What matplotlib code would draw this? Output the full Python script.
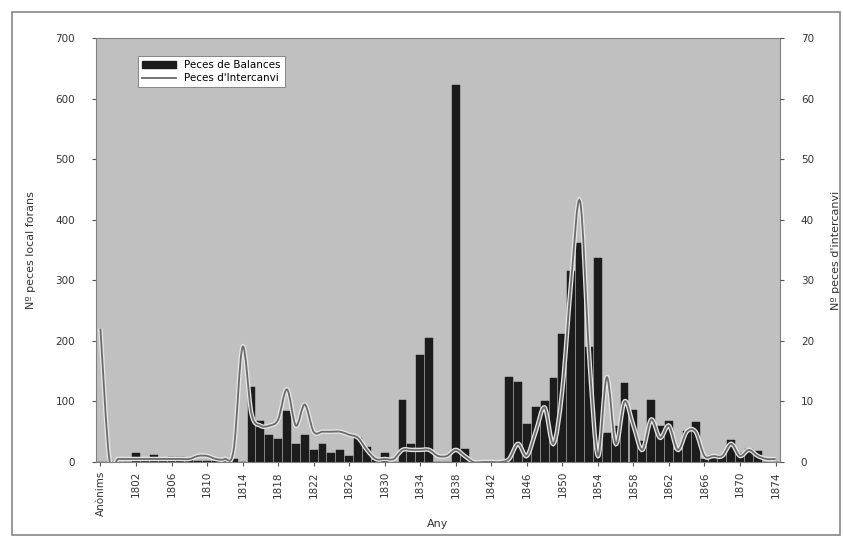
import matplotlib
matplotlib.use("Agg")
import matplotlib.pyplot as plt
import numpy as np
from matplotlib.path import Path
from matplotlib.patches import PathPatch, Patch, Rectangle
from matplotlib.lines import Line2D
import matplotlib.patheffects as pe

# ---------------- data ----------------
years = list(range(1799, 1875))
categories = ["Anònims"] + [str(y) for y in years]

bar_values = [
    0,                                   # Anònims
    0, 0, 0, 15, 3, 12, 6, 8, 8, 7,      # 1799-1808
    2, 2, 1, 2, 5, 0, 124, 68, 45, 38,   # 1809-1818
    85, 30, 45, 20, 30, 15, 20, 10, 40, 25,  # 1819-1828
    3, 15, 0, 102, 30, 176, 204, 0, 0, 622,  # 1829-1838
    22, 0, 0, 0, 0, 140, 132, 62, 90, 100,   # 1839-1848
    138, 212, 315, 362, 190, 336, 48, 60, 130, 86,  # 1849-1858
    35, 102, 60, 68, 20, 52, 66, 5, 12, 12,  # 1859-1868
    36, 15, 22, 18, 0, 0,                # 1869-1874
]

line_values = [
    22,                                  # Anònims
    0.5, 0.5, 0.5, 0.5, 0.5, 0.5, 0.5, 0.5, 0.5, 0.5,  # 1799-1808
    1, 1, 0.5, 0.5, 2, 19, 8, 6, 6, 7,   # 1809-1818
    12, 6, 9.5, 5, 5, 5, 5, 4.5, 4, 2,   # 1819-1828
    0.5, 0.5, 0.5, 2, 2, 2, 2, 1, 1, 2,  # 1829-1838
    1, 0, 0, 0, 0, 0.5, 3, 1, 5, 9,      # 1839-1848
    3, 12, 30, 43, 18, 1, 14, 3, 10, 6,  # 1849-1858
    2, 7, 4, 6, 2, 5, 5, 1, 1, 1,        # 1859-1868
    3, 1, 2, 1, 0.5, 0.5,                # 1869-1874
]

left_ticks = [0, 100, 200, 300, 400, 500, 600, 700]
right_ticks = [0, 10, 20, 30, 40, 50, 60, 70]

label_bars = "Peces de Balances"
label_line = "Peces d'Intercanvi"
ylabel_left = "Nº peces local forans"
ylabel_right = "Nº peces d'intercanvi"
xlabel = "Any"

# ---------------- figure ----------------
fig = plt.figure(figsize=(8.43, 5.40), dpi=100)
fig.patch.set_facecolor("white")

# chart-area frame
fig.patches.append(Rectangle((12 / 843, 5 / 540), 828 / 843, 523 / 540,
                             transform=fig.transFigure, fill=False,
                             edgecolor="#888888", linewidth=1.2))

ax = fig.add_axes([96 / 843, 78 / 540, 684 / 843, 424 / 540])
ax.set_facecolor("#c0c0c0")

x = np.arange(len(categories))
ax.bar(x, bar_values, width=0.88, color="#1c1c1c", edgecolor="#1c1c1c",
       linewidth=0.3, zorder=2)

ax.set_xlim(-0.5, len(categories) - 0.5)
ax.set_ylim(0, 700)
ax.set_yticks(left_ticks)
ax.set_yticklabels([str(t) for t in left_ticks], fontsize=7.5, color="#333333")
tick_idx = list(range(0, len(categories), 4))
ax.set_xticks(tick_idx)
ax.set_xticklabels([categories[i] for i in tick_idx], rotation=90,
                   fontsize=7.5, color="#333333")
ax.tick_params(axis="x", length=3, color="#555555")
ax.tick_params(axis="y", length=3, color="#555555", pad=12)
for s in ax.spines.values():
    s.set_color("#808080")
    s.set_linewidth(0.8)
ax.set_ylabel(ylabel_left, fontsize=8, color="#333333", labelpad=14)
ax.set_xlabel(xlabel, fontsize=8, color="#333333", labelpad=2)

# right axis with smoothed line
ax2 = ax.twinx()
ax2.set_ylim(0, 70)
ax2.set_yticks(right_ticks)
ax2.set_yticklabels([str(t) for t in right_ticks], fontsize=7.5, color="#333333")
ax2.tick_params(axis="y", length=3, color="#555555", pad=12)
ax2.set_ylabel(ylabel_right, fontsize=8, color="#333333", labelpad=12)
for s in ax2.spines.values():
    s.set_visible(False)

# Bezier (Catmull-Rom style) smoothing, drawn as a path in data coordinates
pts = np.column_stack([x, np.array(line_values, dtype=float)])
verts = [tuple(pts[0])]
codes = [Path.MOVETO]
n = len(pts)
for i in range(n - 1):
    p0 = pts[i - 1] if i > 0 else pts[i]
    p1 = pts[i]
    p2 = pts[i + 1]
    p3 = pts[i + 2] if i + 2 < n else pts[i + 1]
    c1 = p1 + (p2 - p0) / 6.0
    c2 = p2 - (p3 - p1) / 6.0
    verts += [tuple(c1), tuple(c2), tuple(p2)]
    codes += [Path.CURVE4, Path.CURVE4, Path.CURVE4]
patch = PathPatch(Path(verts, codes), fill=False, edgecolor="#6a6a6a",
                  linewidth=1.3, zorder=3,
                  path_effects=[pe.Stroke(linewidth=3.2, foreground="#e6e6e6"),
                                pe.Normal()])
patch.set_clip_on(True)
ax2.add_patch(patch)

# legend
handles = [Patch(facecolor="#1c1c1c", edgecolor="#1c1c1c", label=label_bars),
           Line2D([0], [0], color="#6a6a6a", lw=1.3, label=label_line)]
leg = ax2.legend(handles=handles, loc="upper left",
                 bbox_to_anchor=(0.054, 0.97), fontsize=7.5, frameon=True,
                 fancybox=False, edgecolor="#777777", framealpha=1,
                 handlelength=3.2, borderpad=0.4, labelspacing=0.3)
leg.get_frame().set_linewidth(0.6)

fig.savefig("out.png", dpi=100, facecolor="white")
